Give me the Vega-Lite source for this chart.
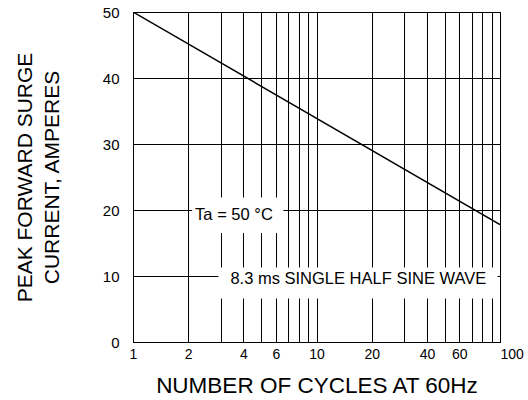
{
  "$schema": "https://vega.github.io/schema/vega-lite/v6.json",
  "width": 367,
  "height": 330,
  "autosize": {"type": "none"},
  "padding": {"left": 133, "top": 12, "right": 28, "bottom": 58},
  "background": "white",
  "config": {
    "font": "Liberation Sans",
    "view": {"stroke": "black", "strokeWidth": 1},
    "axis": {
      "labelFont": "Liberation Sans",
      "titleFont": "Liberation Sans",
      "labelColor": "black",
      "titleColor": "black",
      "titleFontWeight": "normal",
      "gridColor": "black",
      "gridOpacity": 1,
      "gridWidth": 1,
      "domainColor": "black",
      "ticks": false
    }
  },
  "datasets": {
    "curve": [
      {"cycles": 1, "current": 50},
      {"cycles": 100, "current": 17.8}
    ],
    "boxes": [
      {"x1": 2.1, "x2": 6.6, "y1": 16.5, "y2": 21.9},
      {"x1": 2.92, "x2": 97, "y1": 6.6, "y2": 11.3}
    ],
    "notes": [
      {"cx": 3.55, "cy": 19.3, "text": "Ta = 50 °C"},
      {"cx": 16.9, "cy": 9.5, "text": "8.3 ms SINGLE HALF SINE WAVE"}
    ]
  },
  "layer": [
    {
      "data": {"name": "curve"},
      "mark": {"type": "line", "color": "black", "strokeWidth": 1.5, "clip": true},
      "encoding": {
        "x": {
          "field": "cycles",
          "type": "quantitative",
          "scale": {"type": "log", "domain": [1, 100], "nice": false},
          "axis": {
            "values": [1, 2, 3, 4, 5, 6, 7, 8, 9, 10, 20, 30, 40, 50, 60, 70, 80, 90, 100],
            "labelExpr": "indexof([1,2,4,6,10,20,40,60,100], datum.value) >= 0 ? format(datum.value, 'd') : ''",
            "labelFontSize": 14,
            "labelPadding": 5,
            "labelAlign": {"condition": {"test": "datum.value == 100", "value": "left"}, "value": "center"},
            "labelFlush": false,
            "labelOverlap": false,
            "grid": true,
            "title": "NUMBER OF CYCLES AT 60Hz",
            "titleFontSize": 22.5,
            "titlePadding": 13
          }
        },
        "y": {
          "field": "current",
          "type": "quantitative",
          "scale": {"domain": [0, 50], "nice": false},
          "axis": {
            "values": [0, 10, 20, 30, 40, 50],
            "labelFontSize": 15,
            "labelPadding": 14,
            "grid": true,
            "title": ["PEAK FORWARD SURGE", "CURRENT, AMPERES"],
            "titleFontSize": 21,
            "titleLineHeight": 27,
            "titlePadding": 40
          }
        }
      }
    },
    {
      "data": {"name": "boxes"},
      "mark": {"type": "rect", "color": "white", "opacity": 1},
      "encoding": {
        "x": {"field": "x1", "type": "quantitative"},
        "x2": {"field": "x2"},
        "y": {"field": "y1", "type": "quantitative"},
        "y2": {"field": "y2"}
      }
    },
    {
      "data": {"name": "notes"},
      "mark": {"type": "text", "fontSize": 16.5, "color": "black", "align": "center", "baseline": "middle", "font": "Liberation Sans"},
      "encoding": {
        "x": {"field": "cx", "type": "quantitative"},
        "y": {"field": "cy", "type": "quantitative"},
        "text": {"field": "text"}
      }
    }
  ]
}
